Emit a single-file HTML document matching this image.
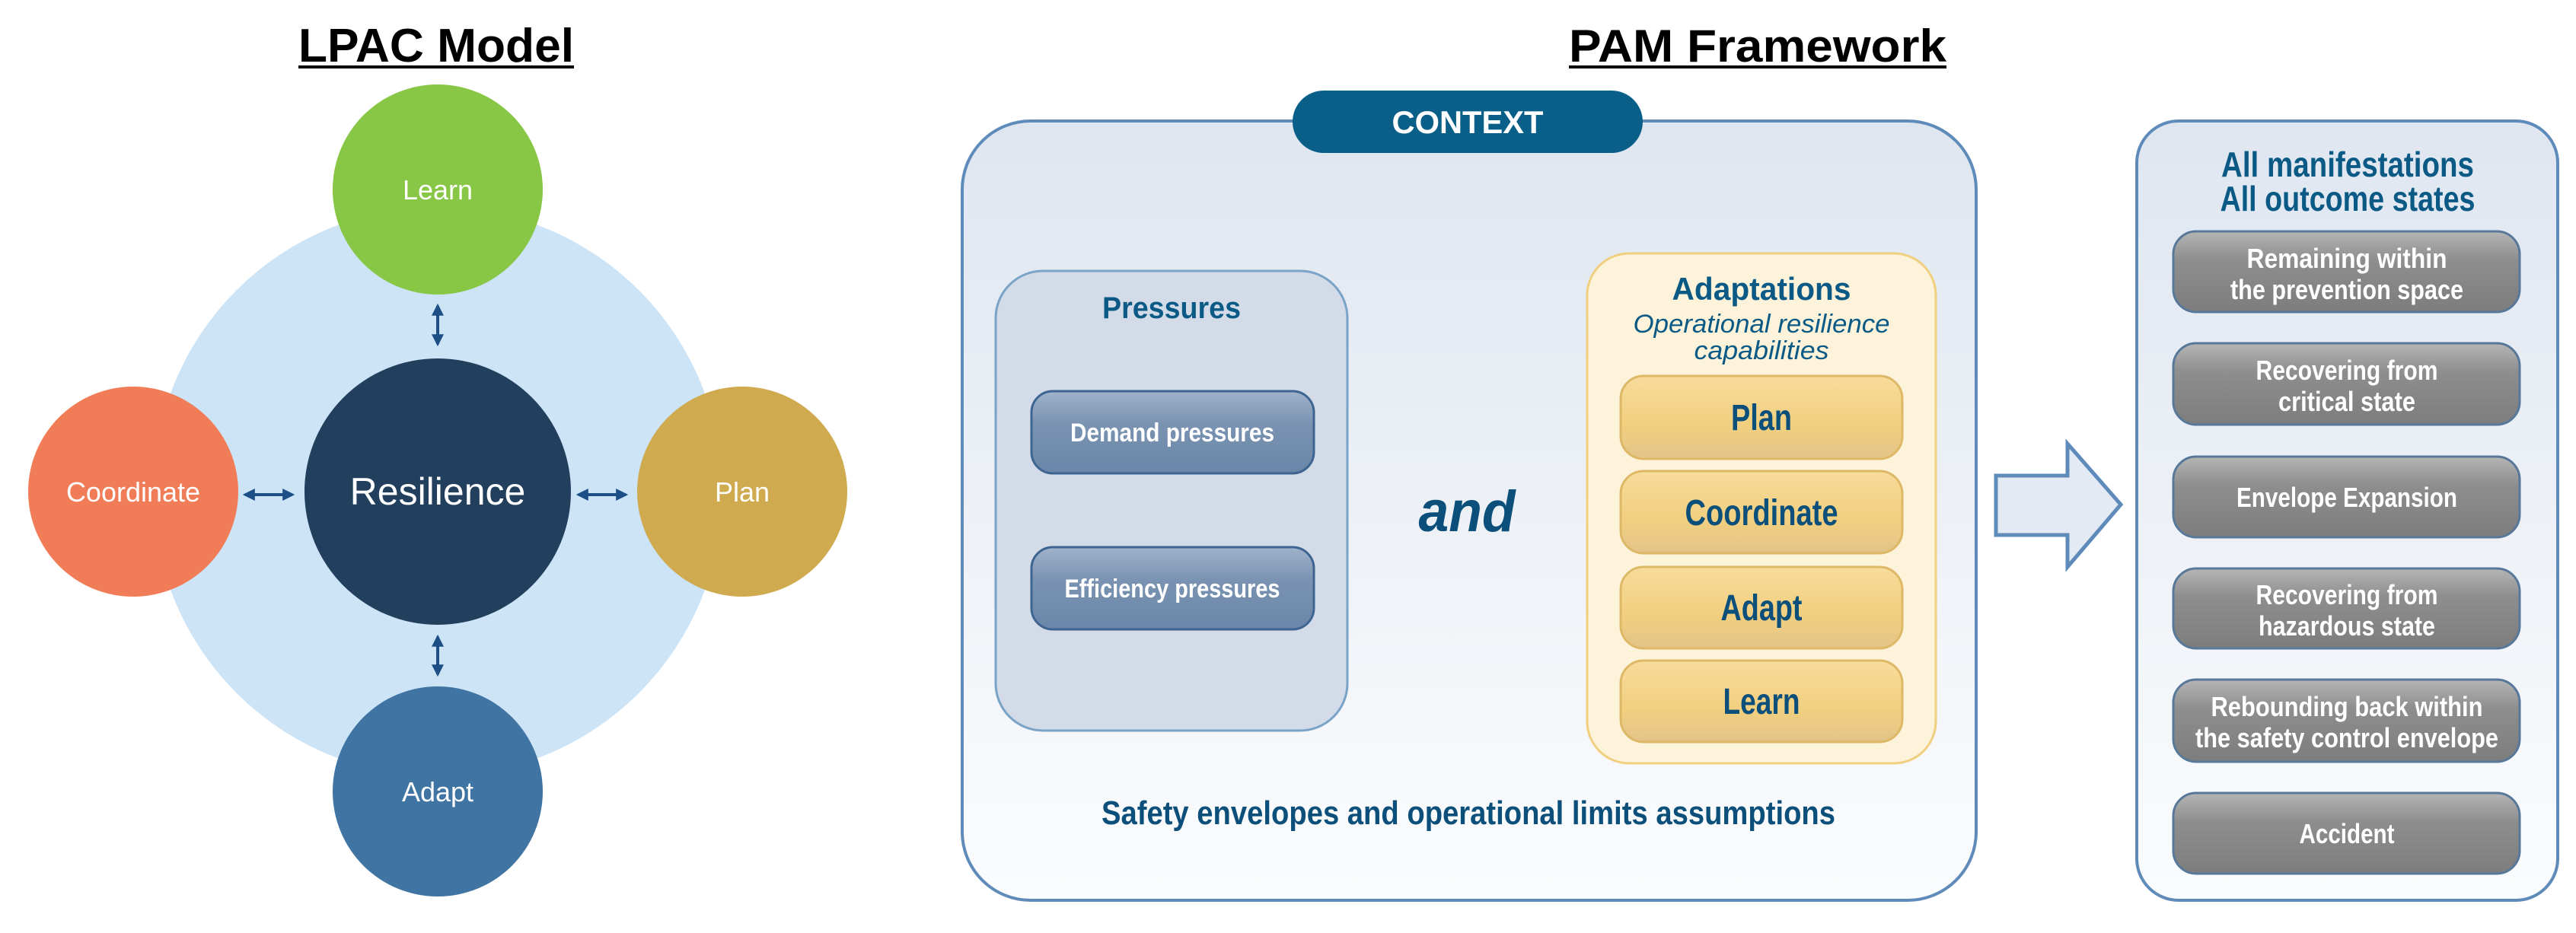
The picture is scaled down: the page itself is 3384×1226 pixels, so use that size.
<!DOCTYPE html>
<html><head><meta charset="utf-8"><style>
html,body{margin:0;padding:0;background:#fff;}
svg{display:block;}
text{font-family:"Liberation Sans",sans-serif;}
</style></head><body>
<svg width="3384" height="1226" viewBox="0 0 3384 1226" xmlns="http://www.w3.org/2000/svg">
<defs>
<linearGradient id="ctx" x1="0" y1="0" x2="0" y2="1"><stop offset="0" stop-color="#dfe6f0"/><stop offset="1" stop-color="#fbfcfd"/></linearGradient>
<linearGradient id="bp" x1="0" y1="0" x2="0" y2="1"><stop offset="0" stop-color="#9fb3ca"/><stop offset="0.4" stop-color="#7a93b2"/><stop offset="1" stop-color="#6a86a8"/></linearGradient>
<linearGradient id="yp" x1="0" y1="0" x2="0" y2="1"><stop offset="0" stop-color="#f8dc9b"/><stop offset="0.6" stop-color="#f1cf7f"/><stop offset="1" stop-color="#e3c489"/></linearGradient>
<linearGradient id="gp" x1="0" y1="0" x2="0" y2="1"><stop offset="0" stop-color="#b5b5b5"/><stop offset="0.35" stop-color="#8e8e8e"/><stop offset="1" stop-color="#7d7d7d"/></linearGradient>
<marker id="ah" viewBox="0 0 10 10" refX="8" refY="5" markerWidth="4" markerHeight="4" orient="auto-start-reverse"><path d="M0,0L10,5L0,10z" fill="#1d4f86"/></marker>
</defs>

<!-- LPAC -->
<text x="573" y="81" font-size="62" font-weight="bold" text-anchor="middle" textLength="362" lengthAdjust="spacingAndGlyphs">LPAC Model</text>
<rect x="392" y="86" width="362" height="4" fill="#000"/>
<circle cx="575" cy="646" r="374" fill="#cde4f7"/>
<circle cx="575" cy="249" r="138" fill="#88c746"/>
<circle cx="175" cy="646" r="138" fill="#f07d58"/>
<circle cx="975" cy="646" r="138" fill="#cfaa4e"/>
<circle cx="575" cy="1040" r="138" fill="#3f74a3"/>
<circle cx="575" cy="646" r="175" fill="#233f5e"/>
<g fill="#fff" text-anchor="middle">
<text x="575" y="262" font-size="36">Learn</text>
<text x="175" y="659" font-size="36">Coordinate</text>
<text x="975" y="659" font-size="36">Plan</text>
<text x="575" y="1053" font-size="36">Adapt</text>
<text x="575" y="663" font-size="50">Resilience</text>
</g>
<g stroke="#1d4f86" stroke-width="4" fill="none">
<line x1="575" y1="402" x2="575" y2="452" marker-start="url(#ah)" marker-end="url(#ah)"/>
<line x1="575" y1="837" x2="575" y2="886" marker-start="url(#ah)" marker-end="url(#ah)"/>
<line x1="322" y1="650" x2="384" y2="650" marker-start="url(#ah)" marker-end="url(#ah)"/>
<line x1="760" y1="650" x2="822" y2="650" marker-start="url(#ah)" marker-end="url(#ah)"/>
</g>

<!-- PAM -->
<text x="2309" y="81" font-size="60" font-weight="bold" text-anchor="middle" textLength="496" lengthAdjust="spacingAndGlyphs">PAM Framework</text>
<rect x="2061" y="86" width="496" height="4" fill="#000"/>

<rect x="1264" y="159" width="1332" height="1024" rx="90" fill="url(#ctx)" stroke="#5f8bba" stroke-width="4"/>
<rect x="1698" y="119" width="460" height="82" rx="41" fill="#0a5f89"/>
<text x="1928" y="175" font-size="42" font-weight="bold" fill="#fff" text-anchor="middle" textLength="199" lengthAdjust="spacingAndGlyphs">CONTEXT</text>

<rect x="1308" y="356" width="462" height="604" rx="62" fill="#d3dbe8" stroke="#7aa3c8" stroke-width="3"/>
<text x="1539" y="418" font-size="40" font-weight="bold" fill="#0b5a86" text-anchor="middle" textLength="182" lengthAdjust="spacingAndGlyphs">Pressures</text>
<rect x="1355" y="514" width="371" height="108" rx="28" fill="url(#bp)" stroke="#3e6591" stroke-width="3"/>
<rect x="1355" y="719" width="371" height="108" rx="28" fill="url(#bp)" stroke="#3e6591" stroke-width="3"/>
<text x="1540" y="580" font-size="34" font-weight="bold" fill="#fff" text-anchor="middle" textLength="268" lengthAdjust="spacingAndGlyphs">Demand pressures</text>
<text x="1540" y="785" font-size="34" font-weight="bold" fill="#fff" text-anchor="middle" textLength="283" lengthAdjust="spacingAndGlyphs">Efficiency pressures</text>

<text x="1927" y="698" font-size="76" font-weight="bold" font-style="italic" fill="#0b4f7a" text-anchor="middle" textLength="127" lengthAdjust="spacingAndGlyphs">and</text>

<rect x="2085" y="333" width="458" height="670" rx="55" fill="#fdf3da" stroke="#f0cf7e" stroke-width="3"/>
<text x="2314" y="394" font-size="42" font-weight="bold" fill="#0b5a86" text-anchor="middle" textLength="235" lengthAdjust="spacingAndGlyphs">Adaptations</text>
<text x="2314" y="437" font-size="34" font-style="italic" fill="#0b5a86" text-anchor="middle" textLength="337" lengthAdjust="spacingAndGlyphs">Operational resilience</text>
<text x="2314" y="472" font-size="34" font-style="italic" fill="#0b5a86" text-anchor="middle" textLength="177" lengthAdjust="spacingAndGlyphs">capabilities</text>
<g stroke="#ddb866" stroke-width="3" fill="url(#yp)">
<rect x="2129" y="494" width="370" height="109" rx="30"/>
<rect x="2129" y="619" width="370" height="108" rx="30"/>
<rect x="2129" y="745" width="370" height="107" rx="30"/>
<rect x="2129" y="868" width="370" height="107" rx="30"/>
</g>
<g font-size="48" font-weight="bold" fill="#0b4f7a" text-anchor="middle" lengthAdjust="spacingAndGlyphs">
<text x="2314" y="565" textLength="80" lengthAdjust="spacingAndGlyphs">Plan</text>
<text x="2314" y="690" textLength="201" lengthAdjust="spacingAndGlyphs">Coordinate</text>
<text x="2314" y="815" textLength="107" lengthAdjust="spacingAndGlyphs">Adapt</text>
<text x="2314" y="938" textLength="101" lengthAdjust="spacingAndGlyphs">Learn</text>
</g>
<text x="1929" y="1083" font-size="44" font-weight="bold" fill="#0b4f7a" text-anchor="middle" textLength="964" lengthAdjust="spacingAndGlyphs">Safety envelopes and operational limits assumptions</text>

<!-- arrow -->
<path d="M2622,625 H2716 V583 L2786,663 L2716,745 V703 H2622 Z" fill="#e3eaf3" stroke="#5f8bba" stroke-width="5"/>

<!-- outcomes -->
<rect x="2807" y="159" width="553" height="1024" rx="55" fill="url(#ctx)" stroke="#5f8bba" stroke-width="4"/>
<g font-size="46" font-weight="bold" fill="#0b5a86" text-anchor="middle">
<text x="3084" y="232" textLength="332" lengthAdjust="spacingAndGlyphs">All manifestations</text>
<text x="3084" y="277" textLength="335" lengthAdjust="spacingAndGlyphs">All outcome states</text>
</g>
<g fill="url(#gp)" stroke="#58789a" stroke-width="3">
<rect x="2855" y="304" width="455" height="106" rx="30"/>
<rect x="2855" y="451" width="455" height="107" rx="30"/>
<rect x="2855" y="600" width="455" height="106" rx="30"/>
<rect x="2855" y="747" width="455" height="105" rx="30"/>
<rect x="2855" y="893" width="455" height="108" rx="30"/>
<rect x="2855" y="1042" width="455" height="106" rx="30"/>
</g>
<g font-size="36" font-weight="bold" fill="#fff" text-anchor="middle">
<text x="3083" y="352" textLength="263" lengthAdjust="spacingAndGlyphs">Remaining within</text>
<text x="3083" y="393" textLength="306" lengthAdjust="spacingAndGlyphs">the prevention space</text>
<text x="3083" y="499" textLength="239" lengthAdjust="spacingAndGlyphs">Recovering from</text>
<text x="3083" y="540" textLength="180" lengthAdjust="spacingAndGlyphs">critical state</text>
<text x="3083" y="666" textLength="290" lengthAdjust="spacingAndGlyphs">Envelope Expansion</text>
<text x="3083" y="794" textLength="239" lengthAdjust="spacingAndGlyphs">Recovering from</text>
<text x="3083" y="835" textLength="232" lengthAdjust="spacingAndGlyphs">hazardous state</text>
<text x="3083" y="941" textLength="357" lengthAdjust="spacingAndGlyphs">Rebounding back within</text>
<text x="3083" y="982" textLength="398" lengthAdjust="spacingAndGlyphs">the safety control envelope</text>
<text x="3083" y="1108" textLength="125" lengthAdjust="spacingAndGlyphs">Accident</text>
</g>
</svg>
</body></html>
